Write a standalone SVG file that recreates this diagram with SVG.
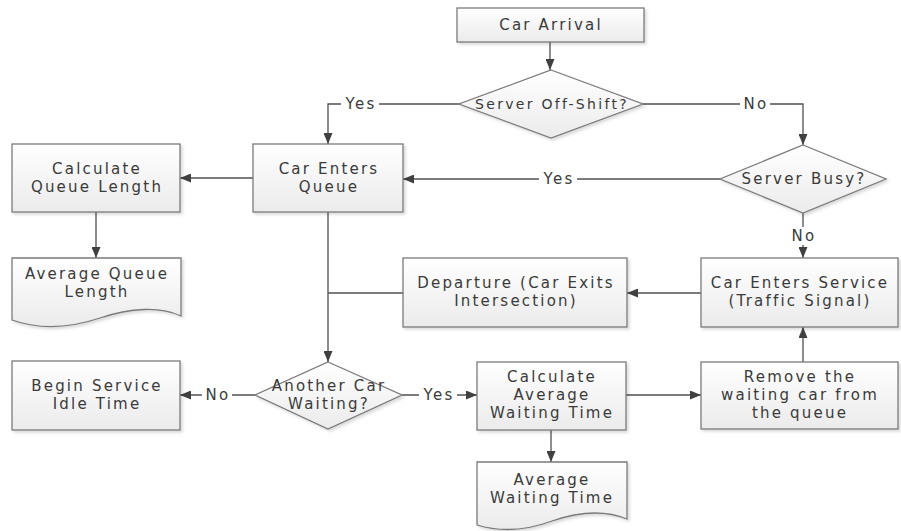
<svg xmlns="http://www.w3.org/2000/svg" width="901" height="531" viewBox="0 0 901 531">
  <style>
    .shape { fill: url(#boxFill); stroke: #7a7a7a; stroke-width: 1.3; filter: url(#shadow); }
    .txt { font-family: "DejaVu Sans", "Liberation Sans", sans-serif; font-size: 15px; fill: #3a3a3a; letter-spacing: 2.2px; text-anchor: middle; }
    .dtxt { font-size: 14px; letter-spacing: 2.3px; }
    .conn { fill: none; stroke: #505050; stroke-width: 1.3; }
    .arr { marker-end: url(#arrow); }
    .lblbg { fill: #ffffff; stroke: none; }
  </style>
  <defs>
    <linearGradient id="boxFill" x1="0" y1="0" x2="0" y2="1">
      <stop offset="0" stop-color="#ffffff"/>
      <stop offset="1" stop-color="#ebebeb"/>
    </linearGradient>
    <filter id="shadow" x="-10%" y="-10%" width="125%" height="135%">
      <feDropShadow dx="2" dy="2" stdDeviation="1.5" flood-color="#000000" flood-opacity="0.15"/>
    </filter>
    <marker id="arrow" markerUnits="userSpaceOnUse" markerWidth="11" markerHeight="9" refX="11" refY="4.5" orient="auto">
      <path d="M0,0 L11,4.5 L0,9 Z" fill="#404040"/>
    </marker>
  </defs>
  <rect width="901" height="531" fill="#ffffff"/>

  <g id="connectors">
    <path class="conn arr" d="M550,42 V70"/>
    <path class="conn arr" d="M459,104 H328 V144"/>
    <path class="conn arr" d="M643,104 H803 V145"/>
    <path class="conn arr" d="M720,179 H403"/>
    <path class="conn arr" d="M803,213 V258"/>
    <path class="conn arr" d="M253,178 H180"/>
    <path class="conn arr" d="M96,212 V258"/>
    <path class="conn arr" d="M328,212 V362"/>
    <path class="conn" d="M403,293 H328"/>
    <path class="conn arr" d="M701,293 H627"/>
    <path class="conn arr" d="M255,395 H180"/>
    <path class="conn arr" d="M402,395 H477"/>
    <path class="conn arr" d="M626,395 H701"/>
    <path class="conn arr" d="M803,362 V327"/>
    <path class="conn arr" d="M551,430 V462"/>
    <rect class="lblbg" x="341" y="95" width="38" height="18"/>
    <text class="txt" x="361" y="109">Yes</text>
    <rect class="lblbg" x="740" y="95" width="30" height="18"/>
    <text class="txt" x="756" y="109">No</text>
    <rect class="lblbg" x="539" y="170" width="38" height="18"/>
    <text class="txt" x="559" y="184">Yes</text>
    <rect class="lblbg" x="788" y="227" width="30" height="18"/>
    <text class="txt" x="804" y="241">No</text>
    <rect class="lblbg" x="202" y="386" width="30" height="18"/>
    <text class="txt" x="218" y="400">No</text>
    <rect class="lblbg" x="419" y="386" width="38" height="18"/>
    <text class="txt" x="439" y="400">Yes</text>
  </g>

  <g id="carArrival">
    <rect class="shape" x="457" y="8" width="187" height="34"/>
    <text class="txt" x="551" y="30">Car Arrival</text>
  </g>
  <g id="serverOffShift">
    <polygon class="shape" points="551,70 643,104 551,138 459,104"/>
    <text class="txt dtxt" x="552" y="109">Server Off-Shift?</text>
  </g>
  <g id="serverBusy">
    <polygon class="shape" points="803,145 886,179 803,213 720,179"/>
    <text class="txt" x="804" y="184">Server Busy?</text>
  </g>
  <g id="carEntersQueue">
    <rect class="shape" x="253" y="144" width="150" height="68"/>
    <text class="txt" x="329" y="174">Car Enters</text>
    <text class="txt" x="329" y="192">Queue</text>
  </g>
  <g id="calculateQueueLength">
    <rect class="shape" x="12" y="144" width="168" height="68"/>
    <text class="txt" x="97" y="174">Calculate</text>
    <text class="txt" x="97" y="192">Queue Length</text>
  </g>
  <g id="averageQueueLength">
    <path class="shape" d="M12,258 H181 V316 C160,306 130,308 100,318 C70,328 40,330 12,320 Z"/>
    <text class="txt" x="97" y="279">Average Queue</text>
    <text class="txt" x="97" y="297">Length</text>
  </g>
  <g id="departure">
    <rect class="shape" x="403" y="258" width="224" height="69"/>
    <text class="txt" x="516" y="288">Departure (Car Exits</text>
    <text class="txt" x="516" y="306">Intersection)</text>
  </g>
  <g id="carEntersService">
    <rect class="shape" x="701" y="258" width="197" height="69"/>
    <text class="txt" x="800" y="288">Car Enters Service</text>
    <text class="txt" x="800" y="306">(Traffic Signal)</text>
  </g>
  <g id="anotherCarWaiting">
    <polygon class="shape" points="328,362 402,395 328,429 255,395"/>
    <text class="txt" x="329" y="391">Another Car</text>
    <text class="txt" x="329" y="409">Waiting?</text>
  </g>
  <g id="beginServiceIdleTime">
    <rect class="shape" x="12" y="361" width="168" height="69"/>
    <text class="txt" x="97" y="391">Begin Service</text>
    <text class="txt" x="97" y="409">Idle Time</text>
  </g>
  <g id="calculateAverageWaitingTime">
    <rect class="shape" x="477" y="362" width="149" height="68"/>
    <text class="txt" x="552" y="382">Calculate</text>
    <text class="txt" x="552" y="400">Average</text>
    <text class="txt" x="552" y="418">Waiting Time</text>
  </g>
  <g id="removeWaitingCar">
    <rect class="shape" x="701" y="362" width="197" height="67"/>
    <text class="txt" x="800" y="382">Remove the</text>
    <text class="txt" x="800" y="400">waiting car from</text>
    <text class="txt" x="800" y="418">the queue</text>
  </g>
  <g id="averageWaitingTime">
    <path class="shape" d="M477,462 H627 V519 C605,510 578,512 552,521 C525,531 500,532 477,525 Z"/>
    <text class="txt" x="552" y="485">Average</text>
    <text class="txt" x="552" y="503">Waiting Time</text>
  </g>
</svg>
